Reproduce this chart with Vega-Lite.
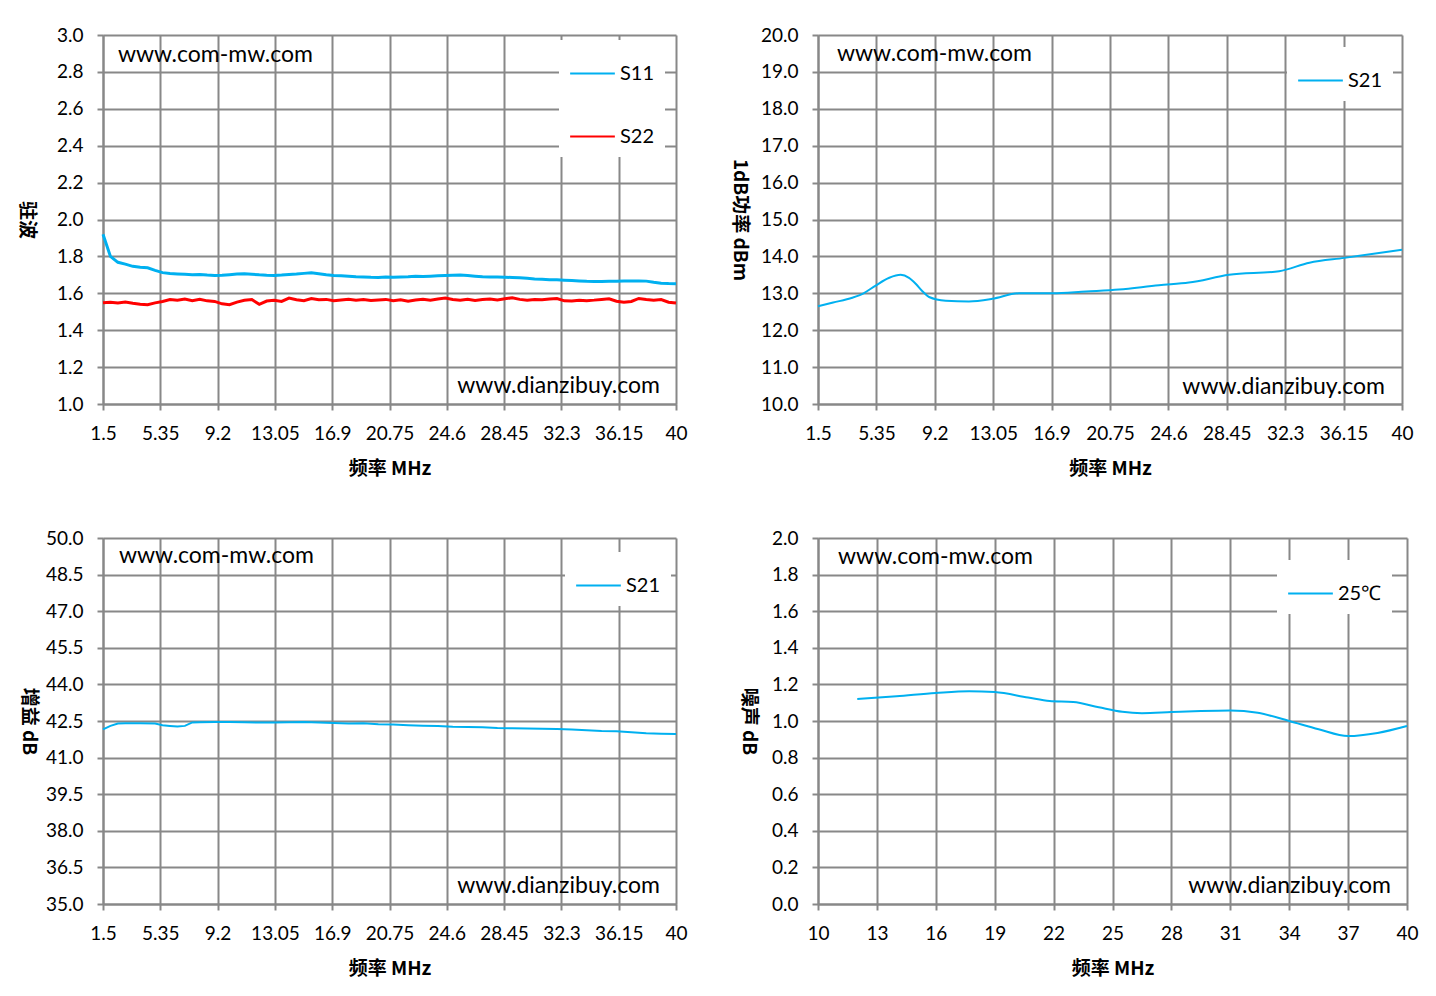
{
  "$schema": "https://vega.github.io/schema/vega-lite/v6.json",
  "background": "white",
  "padding": {"left": 16, "top": 26, "right": 10, "bottom": 10},
  "config": {
    "font": "Lato",
    "view": {"stroke": null},
    "axis": {
      "gridColor": "#888888", "gridWidth": 2, "gridOpacity": 1,
      "domainColor": "#888888", "domainWidth": 2,
      "tickColor": "#888888", "tickWidth": 2, "tickSize": 6, "tickCount": 20,
      "labelFont": "Lato", "labelFontSize": 19, "labelColor": "#000000", "labelOverlap": false,
      "titleFont": "Noto Sans CJK SC", "titleFontSize": 19, "titleFontWeight": "bold", "titleColor": "#000000"
    },
    "axisX": {"labelPadding": 14, "titlePadding": 16, "labelFlush": false, "labelExpr": "datum.value + ''"},
    "axisY": {"labelPadding": 14, "titleAngle": 90, "titleBaseline": "top", "labelFlush": false},
    "legend": {
      "orient": "none", "fillColor": "white", "padding": 10, "title": null,
      "symbolType": "stroke", "symbolSize": 2000, "symbolStrokeWidth": 2,
      "labelFont": "Lato", "labelFontSize": 20, "labelColor": "#000000", "labelOffset": 4
    }
  },
  "datasets": {
    "vswr": [
      {"f": 1.5, "s": "S11", "v": 1.92}, {"f": 2.0, "s": "S11", "v": 1.8}, {"f": 2.5, "s": "S11", "v": 1.768},
      {"f": 3.0, "s": "S11", "v": 1.758}, {"f": 3.5, "s": "S11", "v": 1.746}, {"f": 4.0, "s": "S11", "v": 1.741},
      {"f": 4.5, "s": "S11", "v": 1.738}, {"f": 5.0, "s": "S11", "v": 1.724}, {"f": 5.5, "s": "S11", "v": 1.712},
      {"f": 6.0, "s": "S11", "v": 1.707}, {"f": 6.5, "s": "S11", "v": 1.705}, {"f": 7.0, "s": "S11", "v": 1.703},
      {"f": 7.5, "s": "S11", "v": 1.701}, {"f": 8.0, "s": "S11", "v": 1.702}, {"f": 8.5, "s": "S11", "v": 1.699},
      {"f": 9.0, "s": "S11", "v": 1.697}, {"f": 9.5, "s": "S11", "v": 1.698}, {"f": 10.0, "s": "S11", "v": 1.701},
      {"f": 10.5, "s": "S11", "v": 1.704}, {"f": 11.0, "s": "S11", "v": 1.706}, {"f": 11.5, "s": "S11", "v": 1.703},
      {"f": 12.0, "s": "S11", "v": 1.7}, {"f": 12.5, "s": "S11", "v": 1.698}, {"f": 13.0, "s": "S11", "v": 1.697},
      {"f": 13.5, "s": "S11", "v": 1.699}, {"f": 14.0, "s": "S11", "v": 1.702}, {"f": 14.5, "s": "S11", "v": 1.704},
      {"f": 15.0, "s": "S11", "v": 1.708}, {"f": 15.5, "s": "S11", "v": 1.711}, {"f": 16.0, "s": "S11", "v": 1.706},
      {"f": 16.5, "s": "S11", "v": 1.7}, {"f": 17.0, "s": "S11", "v": 1.697}, {"f": 17.5, "s": "S11", "v": 1.695},
      {"f": 18.0, "s": "S11", "v": 1.693}, {"f": 18.5, "s": "S11", "v": 1.69}, {"f": 19.0, "s": "S11", "v": 1.689},
      {"f": 19.5, "s": "S11", "v": 1.687}, {"f": 20.0, "s": "S11", "v": 1.686}, {"f": 20.5, "s": "S11", "v": 1.688},
      {"f": 21.0, "s": "S11", "v": 1.687}, {"f": 21.5, "s": "S11", "v": 1.689}, {"f": 22.0, "s": "S11", "v": 1.69},
      {"f": 22.5, "s": "S11", "v": 1.692}, {"f": 23.0, "s": "S11", "v": 1.691}, {"f": 23.5, "s": "S11", "v": 1.693},
      {"f": 24.0, "s": "S11", "v": 1.695}, {"f": 24.5, "s": "S11", "v": 1.697}, {"f": 25.0, "s": "S11", "v": 1.698},
      {"f": 25.5, "s": "S11", "v": 1.699}, {"f": 26.0, "s": "S11", "v": 1.696}, {"f": 26.5, "s": "S11", "v": 1.693},
      {"f": 27.0, "s": "S11", "v": 1.69}, {"f": 27.5, "s": "S11", "v": 1.689}, {"f": 28.0, "s": "S11", "v": 1.688},
      {"f": 28.5, "s": "S11", "v": 1.687}, {"f": 29.0, "s": "S11", "v": 1.686}, {"f": 29.5, "s": "S11", "v": 1.684},
      {"f": 30.0, "s": "S11", "v": 1.681}, {"f": 30.5, "s": "S11", "v": 1.678}, {"f": 31.0, "s": "S11", "v": 1.676},
      {"f": 31.5, "s": "S11", "v": 1.674}, {"f": 32.0, "s": "S11", "v": 1.673}, {"f": 32.5, "s": "S11", "v": 1.671},
      {"f": 33.0, "s": "S11", "v": 1.669}, {"f": 33.5, "s": "S11", "v": 1.667}, {"f": 34.0, "s": "S11", "v": 1.665},
      {"f": 34.5, "s": "S11", "v": 1.664}, {"f": 35.0, "s": "S11", "v": 1.664}, {"f": 35.5, "s": "S11", "v": 1.665},
      {"f": 36.0, "s": "S11", "v": 1.665}, {"f": 36.5, "s": "S11", "v": 1.666}, {"f": 37.0, "s": "S11", "v": 1.667},
      {"f": 37.5, "s": "S11", "v": 1.667}, {"f": 38.0, "s": "S11", "v": 1.666}, {"f": 38.5, "s": "S11", "v": 1.66},
      {"f": 39.0, "s": "S11", "v": 1.655}, {"f": 39.5, "s": "S11", "v": 1.653}, {"f": 40.0, "s": "S11", "v": 1.652},
      {"f": 1.5, "s": "S22", "v": 1.549}, {"f": 2.0, "s": "S22", "v": 1.552}, {"f": 2.5, "s": "S22", "v": 1.548},
      {"f": 3.0, "s": "S22", "v": 1.553}, {"f": 3.5, "s": "S22", "v": 1.546}, {"f": 4.0, "s": "S22", "v": 1.541},
      {"f": 4.5, "s": "S22", "v": 1.538}, {"f": 5.0, "s": "S22", "v": 1.548}, {"f": 5.5, "s": "S22", "v": 1.556},
      {"f": 6.0, "s": "S22", "v": 1.566}, {"f": 6.5, "s": "S22", "v": 1.562}, {"f": 7.0, "s": "S22", "v": 1.569},
      {"f": 7.5, "s": "S22", "v": 1.56}, {"f": 8.0, "s": "S22", "v": 1.568}, {"f": 8.5, "s": "S22", "v": 1.559},
      {"f": 9.0, "s": "S22", "v": 1.556}, {"f": 9.5, "s": "S22", "v": 1.543}, {"f": 10.0, "s": "S22", "v": 1.538},
      {"f": 10.5, "s": "S22", "v": 1.552}, {"f": 11.0, "s": "S22", "v": 1.562}, {"f": 11.5, "s": "S22", "v": 1.566},
      {"f": 12.0, "s": "S22", "v": 1.54}, {"f": 12.5, "s": "S22", "v": 1.558}, {"f": 13.0, "s": "S22", "v": 1.562},
      {"f": 13.5, "s": "S22", "v": 1.556}, {"f": 14.0, "s": "S22", "v": 1.574}, {"f": 14.5, "s": "S22", "v": 1.565},
      {"f": 15.0, "s": "S22", "v": 1.56}, {"f": 15.5, "s": "S22", "v": 1.572}, {"f": 16.0, "s": "S22", "v": 1.565},
      {"f": 16.5, "s": "S22", "v": 1.567}, {"f": 17.0, "s": "S22", "v": 1.56}, {"f": 17.5, "s": "S22", "v": 1.564},
      {"f": 18.0, "s": "S22", "v": 1.568}, {"f": 18.5, "s": "S22", "v": 1.563}, {"f": 19.0, "s": "S22", "v": 1.566},
      {"f": 19.5, "s": "S22", "v": 1.561}, {"f": 20.0, "s": "S22", "v": 1.564}, {"f": 20.5, "s": "S22", "v": 1.567},
      {"f": 21.0, "s": "S22", "v": 1.56}, {"f": 21.5, "s": "S22", "v": 1.565}, {"f": 22.0, "s": "S22", "v": 1.557},
      {"f": 22.5, "s": "S22", "v": 1.564}, {"f": 23.0, "s": "S22", "v": 1.568}, {"f": 23.5, "s": "S22", "v": 1.562},
      {"f": 24.0, "s": "S22", "v": 1.569}, {"f": 24.5, "s": "S22", "v": 1.574}, {"f": 25.0, "s": "S22", "v": 1.566},
      {"f": 25.5, "s": "S22", "v": 1.563}, {"f": 26.0, "s": "S22", "v": 1.568}, {"f": 26.5, "s": "S22", "v": 1.561},
      {"f": 27.0, "s": "S22", "v": 1.566}, {"f": 27.5, "s": "S22", "v": 1.569}, {"f": 28.0, "s": "S22", "v": 1.564},
      {"f": 28.5, "s": "S22", "v": 1.57}, {"f": 29.0, "s": "S22", "v": 1.576}, {"f": 29.5, "s": "S22", "v": 1.567},
      {"f": 30.0, "s": "S22", "v": 1.563}, {"f": 30.5, "s": "S22", "v": 1.567}, {"f": 31.0, "s": "S22", "v": 1.565},
      {"f": 31.5, "s": "S22", "v": 1.569}, {"f": 32.0, "s": "S22", "v": 1.572}, {"f": 32.5, "s": "S22", "v": 1.559},
      {"f": 33.0, "s": "S22", "v": 1.558}, {"f": 33.5, "s": "S22", "v": 1.562}, {"f": 34.0, "s": "S22", "v": 1.56},
      {"f": 34.5, "s": "S22", "v": 1.563}, {"f": 35.0, "s": "S22", "v": 1.567}, {"f": 35.5, "s": "S22", "v": 1.57},
      {"f": 36.0, "s": "S22", "v": 1.557}, {"f": 36.5, "s": "S22", "v": 1.551}, {"f": 37.0, "s": "S22", "v": 1.556},
      {"f": 37.5, "s": "S22", "v": 1.572}, {"f": 38.0, "s": "S22", "v": 1.566}, {"f": 38.5, "s": "S22", "v": 1.563},
      {"f": 39.0, "s": "S22", "v": 1.566}, {"f": 39.5, "s": "S22", "v": 1.552}, {"f": 40.0, "s": "S22", "v": 1.547}
    ],
    "p1db": [
      {"f": 1.5, "s": "S21", "v": 12.65}, {"f": 2.5, "s": "S21", "v": 12.75}, {"f": 3.76, "s": "S21", "v": 12.88},
      {"f": 4.5, "s": "S21", "v": 13.0}, {"f": 5.3, "s": "S21", "v": 13.21}, {"f": 6.2, "s": "S21", "v": 13.42},
      {"f": 6.95, "s": "S21", "v": 13.5}, {"f": 7.5, "s": "S21", "v": 13.42}, {"f": 7.94, "s": "S21", "v": 13.26},
      {"f": 8.4, "s": "S21", "v": 13.05}, {"f": 8.82, "s": "S21", "v": 12.9}, {"f": 9.92, "s": "S21", "v": 12.8},
      {"f": 11.45, "s": "S21", "v": 12.78}, {"f": 12.99, "s": "S21", "v": 12.85}, {"f": 14.75, "s": "S21", "v": 13.0},
      {"f": 16.93, "s": "S21", "v": 13.0}, {"f": 19.17, "s": "S21", "v": 13.05}, {"f": 21.34, "s": "S21", "v": 13.1},
      {"f": 23.98, "s": "S21", "v": 13.22}, {"f": 25.95, "s": "S21", "v": 13.29}, {"f": 28.6, "s": "S21", "v": 13.5},
      {"f": 31.9, "s": "S21", "v": 13.6}, {"f": 33.9, "s": "S21", "v": 13.83}, {"f": 36.2, "s": "S21", "v": 13.96},
      {"f": 40.0, "s": "S21", "v": 14.18}
    ],
    "gain": [
      {"f": 1.5, "s": "S21", "v": 42.16}, {"f": 2.0, "s": "S21", "v": 42.3}, {"f": 2.5, "s": "S21", "v": 42.4},
      {"f": 3.0, "s": "S21", "v": 42.41}, {"f": 4.0, "s": "S21", "v": 42.41}, {"f": 5.0, "s": "S21", "v": 42.4},
      {"f": 5.5, "s": "S21", "v": 42.33}, {"f": 6.0, "s": "S21", "v": 42.3}, {"f": 6.5, "s": "S21", "v": 42.27},
      {"f": 7.0, "s": "S21", "v": 42.3}, {"f": 7.5, "s": "S21", "v": 42.44}, {"f": 8.0, "s": "S21", "v": 42.45},
      {"f": 9.0, "s": "S21", "v": 42.46}, {"f": 10.0, "s": "S21", "v": 42.46}, {"f": 11.0, "s": "S21", "v": 42.45},
      {"f": 12.0, "s": "S21", "v": 42.44}, {"f": 13.0, "s": "S21", "v": 42.44}, {"f": 14.0, "s": "S21", "v": 42.45},
      {"f": 15.0, "s": "S21", "v": 42.46}, {"f": 16.0, "s": "S21", "v": 42.44}, {"f": 17.0, "s": "S21", "v": 42.42},
      {"f": 18.0, "s": "S21", "v": 42.4}, {"f": 19.0, "s": "S21", "v": 42.41}, {"f": 20.0, "s": "S21", "v": 42.37},
      {"f": 21.0, "s": "S21", "v": 42.36}, {"f": 22.0, "s": "S21", "v": 42.33}, {"f": 23.0, "s": "S21", "v": 42.31},
      {"f": 24.0, "s": "S21", "v": 42.3}, {"f": 25.0, "s": "S21", "v": 42.26}, {"f": 26.0, "s": "S21", "v": 42.25},
      {"f": 27.0, "s": "S21", "v": 42.24}, {"f": 28.0, "s": "S21", "v": 42.21}, {"f": 29.0, "s": "S21", "v": 42.2},
      {"f": 30.0, "s": "S21", "v": 42.19}, {"f": 31.0, "s": "S21", "v": 42.18}, {"f": 32.0, "s": "S21", "v": 42.17},
      {"f": 33.0, "s": "S21", "v": 42.15}, {"f": 34.0, "s": "S21", "v": 42.12}, {"f": 35.0, "s": "S21", "v": 42.09},
      {"f": 36.0, "s": "S21", "v": 42.08}, {"f": 37.0, "s": "S21", "v": 42.04}, {"f": 38.0, "s": "S21", "v": 42.0},
      {"f": 39.0, "s": "S21", "v": 41.98}, {"f": 40.0, "s": "S21", "v": 41.97}
    ],
    "noise": [
      {"f": 12.0, "s": "25℃", "v": 1.12}, {"f": 14.0, "s": "25℃", "v": 1.135}, {"f": 16.0, "s": "25℃", "v": 1.153},
      {"f": 17.7, "s": "25℃", "v": 1.163}, {"f": 19.0, "s": "25℃", "v": 1.158}, {"f": 20.7, "s": "25℃", "v": 1.128},
      {"f": 21.8, "s": "25℃", "v": 1.109}, {"f": 23.0, "s": "25℃", "v": 1.104}, {"f": 24.3, "s": "25℃", "v": 1.075},
      {"f": 25.5, "s": "25℃", "v": 1.05}, {"f": 26.5, "s": "25℃", "v": 1.043}, {"f": 28.0, "s": "25℃", "v": 1.049},
      {"f": 29.5, "s": "25℃", "v": 1.055}, {"f": 31.0, "s": "25℃", "v": 1.058}, {"f": 32.4, "s": "25℃", "v": 1.045},
      {"f": 34.0, "s": "25℃", "v": 1.0}, {"f": 35.5, "s": "25℃", "v": 0.955}, {"f": 37.0, "s": "25℃", "v": 0.918},
      {"f": 38.5, "s": "25℃", "v": 0.935}, {"f": 40.0, "s": "25℃", "v": 0.973}
    ]
  },
  "vconcat": [
    {
      "hconcat": [
        {
          "width": 573, "height": 369,
          "layer": [
            {
              "data": {"name": "vswr"},
              "mark": {"type": "line", "strokeWidth": 3, "interpolate": "linear"},
              "encoding": {
                "x": {"field": "f", "type": "quantitative", "scale": {"domain": [1.5, 40], "nice": false, "zero": false},
                      "axis": {"title": "频率 MHz", "values": [1.5, 5.35, 9.2, 13.05, 16.9, 20.75, 24.6, 28.45, 32.3, 36.15, 40]}},
                "y": {"field": "v", "type": "quantitative", "scale": {"domain": [1, 3], "nice": false, "zero": false},
                      "axis": {"title": "驻波", "values": [1, 1.2, 1.4, 1.6, 1.8, 2, 2.2, 2.4, 2.6, 2.8, 3], "format": ".1f", "titlePadding": 21}},
                "color": {"field": "s", "type": "nominal", "scale": {"domain": ["S11", "S22"], "range": ["#00B0F0", "#FF0000"]},
                          "legend": {"legendX": 456, "legendY": 5, "rowPadding": 29}}
              }
            },
            {
              "data": {"values": [{}]},
              "mark": {"type": "text", "text": "www.com-mw.com", "align": "left", "baseline": "middle", "fontSize": 23, "font": "Lato"},
              "encoding": {"x": {"datum": 2.5}, "y": {"datum": 2.89}}
            },
            {
              "data": {"values": [{}]},
              "mark": {"type": "text", "text": "www.dianzibuy.com", "align": "right", "baseline": "middle", "fontSize": 23, "font": "Lato"},
              "encoding": {"x": {"datum": 38.92}, "y": {"datum": 1.098}}
            }
          ]
        },
        {
          "width": 584, "height": 369,
          "layer": [
            {
              "data": {"name": "p1db"},
              "mark": {"type": "line", "strokeWidth": 2, "interpolate": "monotone"},
              "encoding": {
                "x": {"field": "f", "type": "quantitative", "scale": {"domain": [1.5, 40], "nice": false, "zero": false},
                      "axis": {"title": "频率 MHz", "values": [1.5, 5.35, 9.2, 13.05, 16.9, 20.75, 24.6, 28.45, 32.3, 36.15, 40]}},
                "y": {"field": "v", "type": "quantitative", "scale": {"domain": [10, 20], "nice": false, "zero": false},
                      "axis": {"title": "1dB功率 dBm", "values": [10, 11, 12, 13, 14, 15, 16, 17, 18, 19, 20], "format": ".1f", "titlePadding": 12}},
                "color": {"field": "s", "type": "nominal", "scale": {"domain": ["S21"], "range": ["#00B0F0"]},
                          "legend": {"legendX": 469, "legendY": 12}}
              }
            },
            {
              "data": {"values": [{}]},
              "mark": {"type": "text", "text": "www.com-mw.com", "align": "left", "baseline": "middle", "fontSize": 23, "font": "Lato"},
              "encoding": {"x": {"datum": 2.75}, "y": {"datum": 19.49}}
            },
            {
              "data": {"values": [{}]},
              "mark": {"type": "text", "text": "www.dianzibuy.com", "align": "right", "baseline": "middle", "fontSize": 23, "font": "Lato"},
              "encoding": {"x": {"datum": 38.88}, "y": {"datum": 10.46}}
            }
          ]
        }
      ],
      "spacing": 41,
      "resolve": {"scale": {"color": "independent"}, "legend": {"color": "independent"}}
    },
    {
      "hconcat": [
        {
          "width": 573, "height": 366,
          "layer": [
            {
              "data": {"name": "gain"},
              "mark": {"type": "line", "strokeWidth": 2, "interpolate": "linear"},
              "encoding": {
                "x": {"field": "f", "type": "quantitative", "scale": {"domain": [1.5, 40], "nice": false, "zero": false},
                      "axis": {"title": "频率 MHz", "values": [1.5, 5.35, 9.2, 13.05, 16.9, 20.75, 24.6, 28.45, 32.3, 36.15, 40]}},
                "y": {"field": "v", "type": "quantitative", "scale": {"domain": [35, 50], "nice": false, "zero": false},
                      "axis": {"title": "增益 dB", "values": [35, 36.5, 38, 39.5, 41, 42.5, 44, 45.5, 47, 48.5, 50], "format": ".1f", "titlePadding": 8}},
                "color": {"field": "s", "type": "nominal", "scale": {"domain": ["S21"], "range": ["#00B0F0"]},
                          "legend": {"legendX": 462, "legendY": 14}}
              }
            },
            {
              "data": {"values": [{}]},
              "mark": {"type": "text", "text": "www.com-mw.com", "align": "left", "baseline": "middle", "fontSize": 23, "font": "Lato"},
              "encoding": {"x": {"datum": 2.57}, "y": {"datum": 49.26}}
            },
            {
              "data": {"values": [{}]},
              "mark": {"type": "text", "text": "www.dianzibuy.com", "align": "right", "baseline": "middle", "fontSize": 23, "font": "Lato"},
              "encoding": {"x": {"datum": 38.92}, "y": {"datum": 35.74}}
            }
          ]
        },
        {
          "width": 589, "height": 366,
          "layer": [
            {
              "data": {"name": "noise"},
              "mark": {"type": "line", "strokeWidth": 2, "interpolate": "monotone"},
              "encoding": {
                "x": {"field": "f", "type": "quantitative", "scale": {"domain": [10, 40], "nice": false, "zero": false},
                      "axis": {"title": "频率 MHz", "values": [10, 13, 16, 19, 22, 25, 28, 31, 34, 37, 40]}},
                "y": {"field": "v", "type": "quantitative", "scale": {"domain": [0, 2], "nice": false, "zero": false},
                      "axis": {"title": "噪声 dB", "values": [0, 0.2, 0.4, 0.6, 0.8, 1, 1.2, 1.4, 1.6, 1.8, 2], "format": ".1f", "titlePadding": 14}},
                "color": {"field": "s", "type": "nominal", "scale": {"domain": ["25℃"], "range": ["#00B0F0"]},
                          "legend": {"legendX": 459, "legendY": 22}}
              }
            },
            {
              "data": {"values": [{}]},
              "mark": {"type": "text", "text": "www.com-mw.com", "align": "left", "baseline": "middle", "fontSize": 23, "font": "Lato"},
              "encoding": {"x": {"datum": 11.02}, "y": {"datum": 1.896}}
            },
            {
              "data": {"values": [{}]},
              "mark": {"type": "text", "text": "www.dianzibuy.com", "align": "right", "baseline": "middle", "fontSize": 23, "font": "Lato"},
              "encoding": {"x": {"datum": 39.18}, "y": {"datum": 0.098}}
            }
          ]
        }
      ],
      "spacing": 50,
      "resolve": {"scale": {"color": "independent"}, "legend": {"color": "independent"}}
    }
  ],
  "spacing": 51,
  "resolve": {"scale": {"color": "independent"}, "legend": {"color": "independent"}}
}
